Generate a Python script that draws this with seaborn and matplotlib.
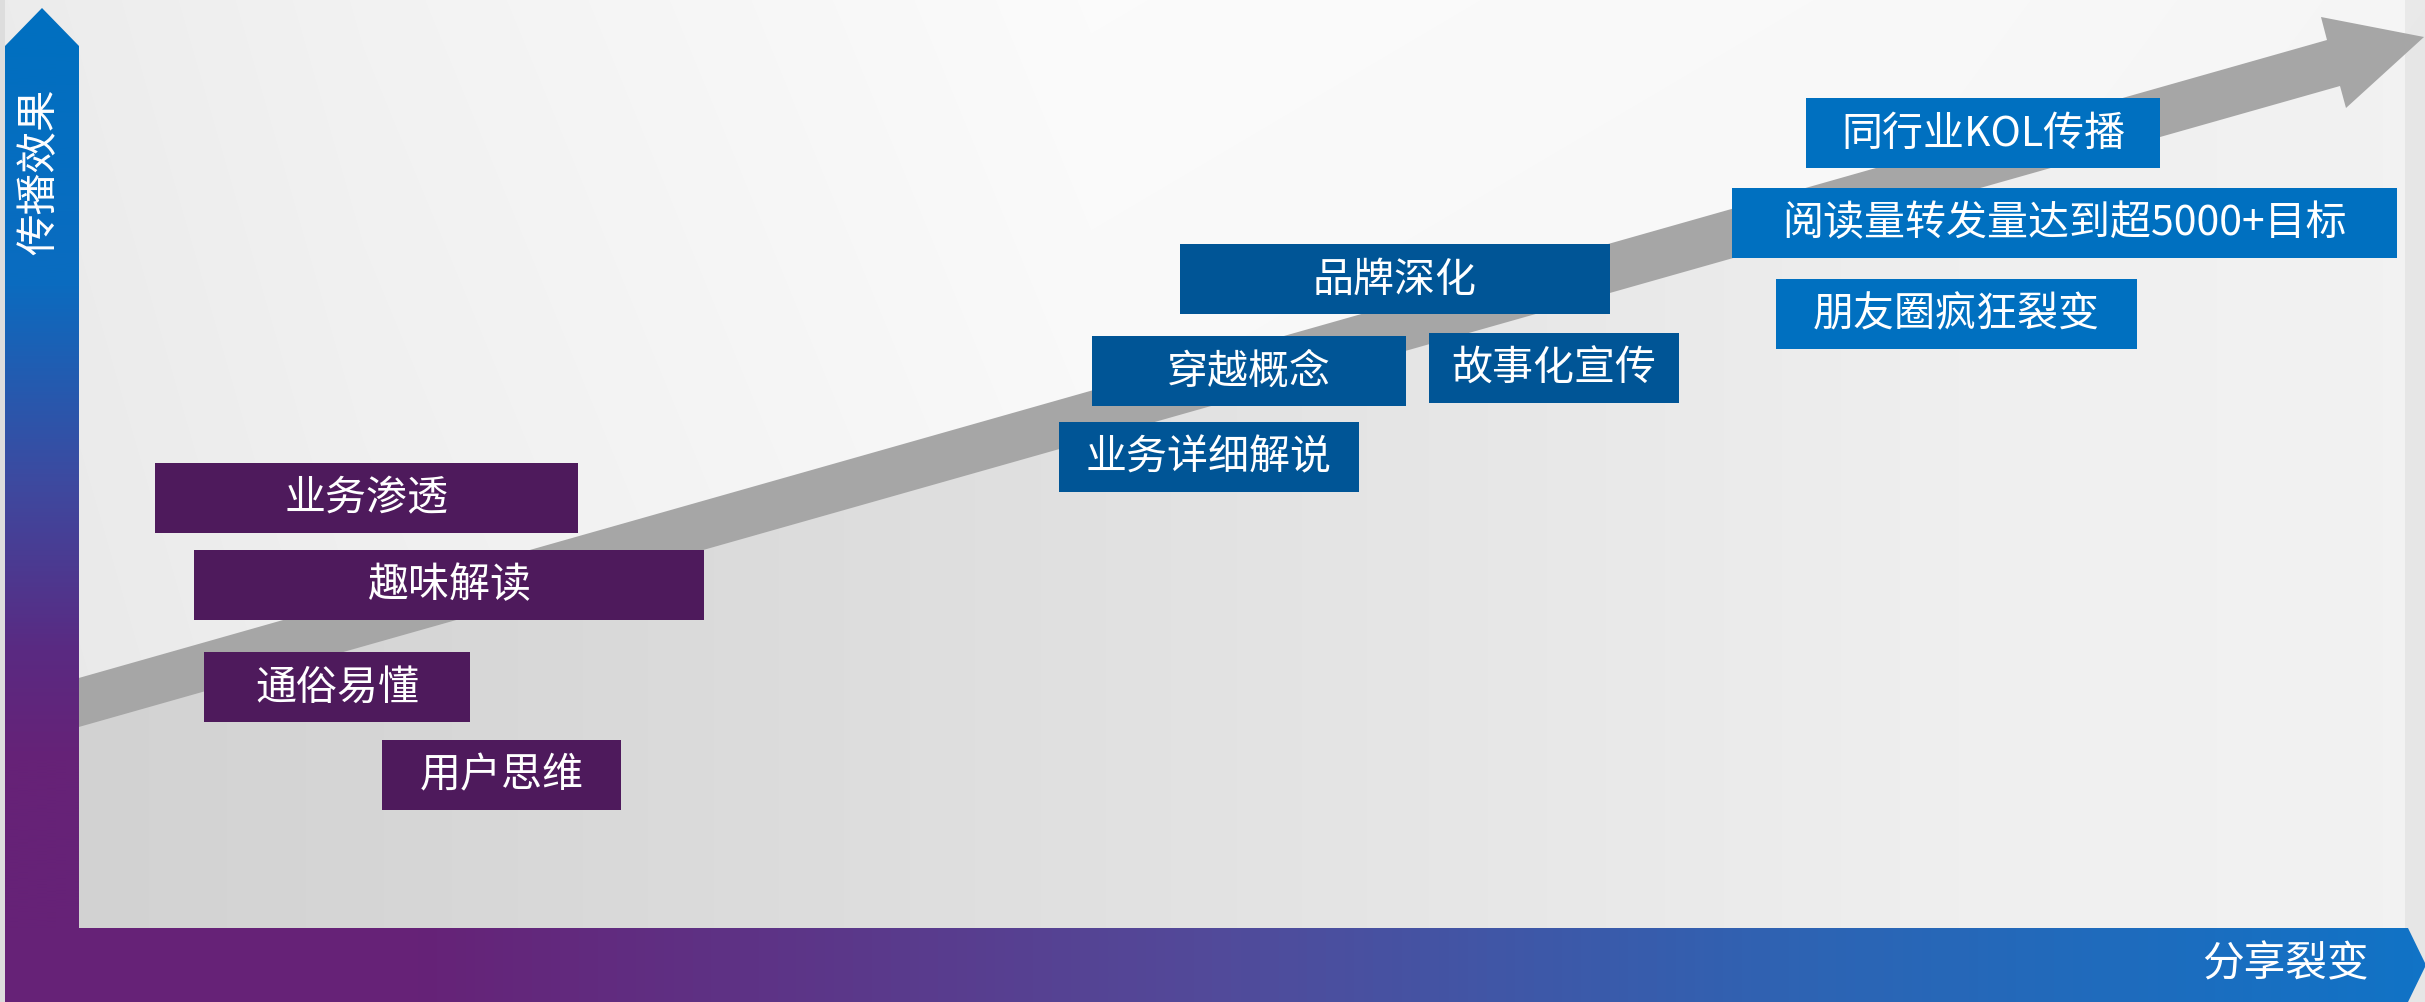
import numpy as np
import matplotlib
matplotlib.use("Agg")
import matplotlib.pyplot as plt
from matplotlib.patches import Polygon, Rectangle
from matplotlib.colors import LinearSegmentedColormap
import seaborn as sns

# ---------------- data ----------------
early_labels = ["业务渗透", "趣味解读", "通俗易懂", "用户思维"]
mid_labels = ["品牌深化", "穿越概念", "故事化宣传", "业务详细解说"]
late_labels = ["同行业KOL传播", "阅读量转发量达到超5000+目标", "朋友圈疯狂裂变"]
y_axis_label = "传播效果"
x_axis_label = "分享裂变"

# ---------------- layout (pixel canvas) ----------------
W, H = 2425, 1003
early_boxes = [(155, 464, 578, 534), (194, 551, 704, 621), (204, 653, 470, 723), (382, 741, 621, 811)]
mid_boxes = [(1180, 245, 1610, 315), (1092, 337, 1406, 407), (1429, 334, 1679, 404), (1059, 423, 1359, 493)]
late_boxes = [(1806, 99, 2160, 169), (1732, 189, 2397, 259), (1776, 280, 2137, 350)]

early_color = "#4e1a5c"
mid_color = "#005596"
late_color = "#0070c0"

sns.set_theme(style="white")
plt.rcParams["font.family"] = ["Noto Sans CJK SC", "DejaVu Sans"]

fig = plt.figure(figsize=(W / 100, H / 100), dpi=100)
ax = fig.add_axes([0, 0, 1, 1])
ax.set_xlim(0, W)
ax.set_ylim(H, 0)
ax.axis("off")

# ---------------- background ----------------
xx, yy = np.meshgrid(np.arange(W) + 0.5, np.arange(H) + 0.5)
xf = xx / W
yf = yy / H
slope = -0.2842
yc = 703.5 + slope * (xx - 79)
L_above = np.interp(xf, [0, 0.15, 0.45, 0.8, 1], [0.925, 0.95, 0.985, 0.975, 0.962]) - 0.02 * yf
L_below = np.interp(xx, [0, 400, 900, 1400, 2000, 2425], [0.82, 0.84, 0.87, 0.90, 0.94, 0.95])
L = np.where(yy > yc, L_below, L_above)
L = np.where(xx > 2405, L * 0.95, L)
L = np.where(xx < 5, 0.87, L)
ax.imshow(np.dstack([L, L, L]), extent=(0, W, H, 0), interpolation="bilinear", zorder=0)
ax.set_aspect("auto")

# ---------------- gray growth arrow ----------------
arrow_pts = [(40, 690), (2327, 41), (2321, 18), (2424, 38), (2346, 109), (2340, 87), (40, 739)]
ax.add_patch(Polygon(arrow_pts, closed=True, facecolor="#a6a6a6", edgecolor="none", zorder=1))

# ---------------- gradient axes ----------------
v_cmap = LinearSegmentedColormap.from_list(
    "v", [(0.0, "#0070c0"), (0.28, "#0a6cc0"), (0.48, "#3d4aa0"), (0.65, "#5a2a82"), (0.76, "#662277"), (1.0, "#662277")])
h_cmap = LinearSegmentedColormap.from_list(
    "h", [(0.0, "#662277"), (0.17, "#662277"), (0.5, "#524a9a"), (0.75, "#2d64b4"), (1.0, "#1173c6")])

v_poly = Polygon([(5, H), (5, 47), (42, 9), (79, 47), (79, H)], closed=True, facecolor="none", edgecolor="none")
ax.add_patch(v_poly)
vgrad = np.linspace(0, 1, 512).reshape(-1, 1)
im_v = ax.imshow(vgrad, cmap=v_cmap, extent=(0, W, H, 0), aspect="auto", zorder=3, interpolation="bilinear")
im_v.set_clip_path(v_poly)

h_poly = Polygon([(5, 929), (2408, 929), (2426, 966), (2408, H), (5, H)], closed=True, facecolor="none", edgecolor="none")
ax.add_patch(h_poly)
hgrad = np.linspace(0, 1, 512).reshape(1, -1)
im_h = ax.imshow(hgrad, cmap=h_cmap, extent=(0, W, H, 0), aspect="auto", zorder=3, interpolation="bilinear")
im_h.set_clip_path(h_poly)

ax.set_xlim(0, W)
ax.set_ylim(H, 0)

ax.text(40, 172, y_axis_label, rotation=90, color="white", fontsize=30, ha="center", va="center", zorder=5)
ax.text(2285, 965, x_axis_label, color="white", fontsize=30, ha="center", va="center", zorder=5)

# ---------------- label boxes ----------------
def draw_group(labels, boxes, color, fs):
    for lab, (x0, y0, x1, y1) in zip(labels, boxes):
        ax.add_patch(Rectangle((x0, y0), x1 - x0, y1 - y0, facecolor=color, edgecolor="none", zorder=4))
        ax.text((x0 + x1) / 2, (y0 + y1) / 2, lab, color="white", fontsize=fs,
                ha="center", va="center", zorder=5)

draw_group(early_labels, early_boxes, early_color, 29.5)
draw_group(mid_labels, mid_boxes, mid_color, 29.5)
draw_group(late_labels, late_boxes, late_color, 29.5)

fig.savefig("out.png", dpi=100)
